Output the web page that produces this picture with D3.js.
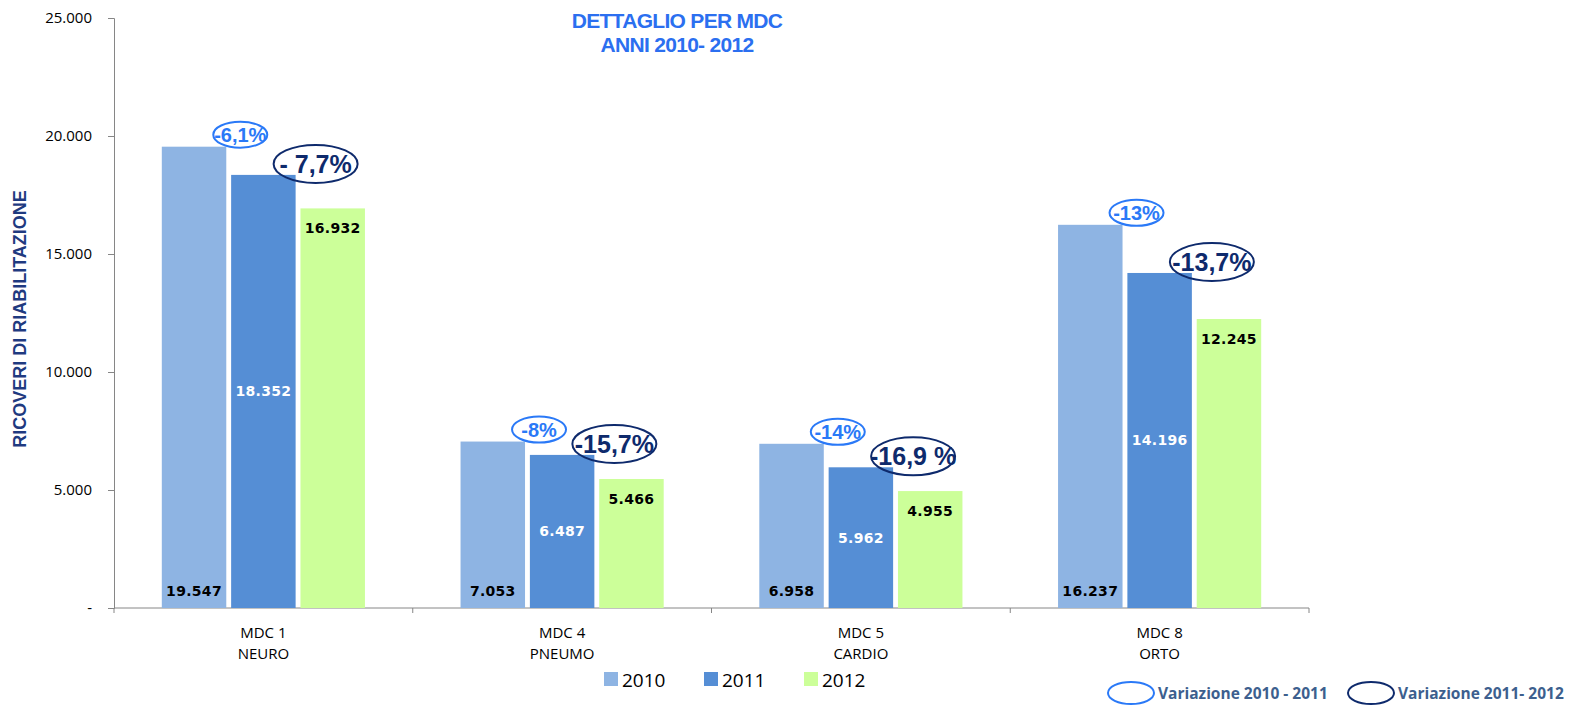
<!DOCTYPE html>
<html lang="it">
<head>
    <meta charset="UTF-8">
    <title>Dettaglio per MDC</title>
    <script src="https://d3js.org/d3.v7.min.js"></script>
    <style>
        body { margin: 0; background: #fff; }
        svg { font-family: "Liberation Sans", Arial, sans-serif; }
        .tick text { fill: #000; }
    </style>
</head>
<body>
    <div id="chart"></div>
    <script>
        // Data
        var categoryCodes = ["MDC 1", "MDC 4", "MDC 5", "MDC 8"];
        var categoryNames = ["NEURO", "PNEUMO", "CARDIO", "ORTO"];
        var years = ["2010", "2011", "2012"];
        var values2010 = [19547, 7053, 6958, 16237];
        var values2011 = [18352, 6487, 5962, 14196];
        var values2012 = [16932, 5466, 4955, 12245];
        var variation1011 = ["-6,1%", "-8%", "-14%", "-13%"];
        var variation1112 = ["- 7,7%", "-15,7%", "-16,9 %", "-13,7%"];
        var yTicks = [0, 5000, 10000, 15000, 20000, 25000];

        var colors = { "2010": "#8eb4e3", "2011": "#558ed5", "2012": "#ccff99" };
        var lightBlue = "#2a79f7", darkBlue = "#0e2a6c";

        var width = 1573, height = 706;
        var plotLeft = 114, plotRight = 1309, plotTop = 18, plotBottom = 608;

        var svg = d3.select("#chart").append("svg")
            .attr("width", width)
            .attr("height", height);

        var series = { "2010": values2010, "2011": values2011, "2012": values2012 };
        var rows = categoryCodes.map(function(c, i) {
            return { code: c, name: categoryNames[i], index: i,
                     values: years.map(function(y) { return { year: y, value: series[y][i], index: i }; }) };
        });

        var x0 = d3.scaleBand().domain(categoryCodes).range([plotLeft, plotRight])
            .paddingInner(0.32).paddingOuter(0.16);
        var x1 = d3.scaleBand().domain(years).range([0, x0.bandwidth()]).paddingInner(0.07);
        var y = d3.scaleLinear().domain([0, 25000]).range([plotBottom, plotTop]);

        var fmt = function(v) { return v === 0 ? "-" : d3.format(",")(v).replace(/,/g, "."); };

        // y axis
        var yAxis = svg.append("g")
            .attr("transform", "translate(" + plotLeft + ",0)")
            .call(d3.axisLeft(y).tickValues(yTicks).tickFormat(fmt).tickSize(6).tickPadding(16));
        yAxis.select(".domain").attr("stroke", "#868686");
        yAxis.selectAll(".tick line").attr("stroke", "#868686");
        yAxis.selectAll("text").style("font-size", "15px").style("font-family", "'Open Sans', sans-serif");

        // x axis: ticks at group boundaries
        var step = x0.step();
        var boundaries = [plotLeft].concat(categoryCodes.map(function(c) { return x0(c) - x0.paddingOuter() * step + step; }));
        var xAxis = svg.append("g").attr("transform", "translate(0," + plotBottom + ")");
        xAxis.append("line").attr("x1", plotLeft).attr("x2", plotRight).attr("stroke", "#868686");
        xAxis.selectAll(".btick").data(boundaries).enter().append("line")
            .attr("x1", function(d) { return d; }).attr("x2", function(d) { return d; })
            .attr("y1", 0).attr("y2", 5).attr("stroke", "#868686");
        var xl = xAxis.selectAll(".xlab").data(rows).enter().append("text")
            .attr("x", function(d) { return x0(d.code) + x0.bandwidth() / 2; })
            .attr("text-anchor", "middle")
            .style("font-family", "'Open Sans', sans-serif")
            .style("font-size", "15px");
        xl.append("tspan").attr("x", function(d) { return x0(d.code) + x0.bandwidth() / 2; }).attr("y", 30).text(function(d) { return d.code; });
        xl.append("tspan").attr("x", function(d) { return x0(d.code) + x0.bandwidth() / 2; }).attr("y", 51).text(function(d) { return d.name; });

        // bars
        var groups = svg.selectAll(".grp").data(rows).enter().append("g")
            .attr("transform", function(d) { return "translate(" + x0(d.code) + ",0)"; });
        groups.selectAll("rect").data(function(d) { return d.values; }).enter().append("rect")
            .attr("x", function(d) { return x1(d.year); })
            .attr("y", function(d) { return y(d.value); })
            .attr("width", x1.bandwidth())
            .attr("height", function(d) { return plotBottom - y(d.value); })
            .attr("fill", function(d) { return colors[d.year]; });

        // bar labels
        groups.selectAll(".lbl").data(function(d) { return d.values; }).enter().append("text")
            .attr("x", function(d) { return x1(d.year) + x1.bandwidth() / 2; })
            .attr("y", function(d) {
                if (d.year === "2010") return plotBottom - 12;
                if (d.year === "2011") return (y(d.value) + plotBottom) / 2 + 5;
                return y(d.value) + 25;
            })
            .attr("text-anchor", "middle")
            .attr("fill", function(d) { return d.year === "2011" ? "#fff" : "#000"; })
            .style("font-family", "'DejaVu Sans', sans-serif")
            .style("font-weight", "bold")
            .style("font-size", "14px")
            .style("letter-spacing", "0.3px")
            .text(function(d) { return fmt(d.value); });

        // variation ellipses
        function bubble(g, cx, cy, rx, ry, color, size, label) {
            g.append("ellipse").attr("cx", cx).attr("cy", cy).attr("rx", rx).attr("ry", ry)
                .attr("fill", "none").attr("stroke", color).attr("stroke-width", 2);
            if (label) {
                g.append("text").attr("x", cx).attr("y", cy + size * 0.36)
                    .attr("text-anchor", "middle").attr("fill", color)
                    .style("font-weight", "bold").style("font-size", size + "px")
                    .text(label);
            }
        }
        rows.forEach(function(r, i) {
            var g = svg.append("g");
            var gx = x0(r.code);
            bubble(g, gx + x1("2010") + x1.bandwidth() + 14, y(values2010[i]) - 12, 27, 13, lightBlue, 20, variation1011[i]);
            bubble(g, gx + x1("2011") + x1.bandwidth() + 20, y(values2011[i]) - 11, 42, 19, darkBlue, 25, variation1112[i]);
        });

        // title
        var title = svg.append("text").attr("text-anchor", "middle").attr("fill", "#2b6ff0")
            .style("font-weight", "bold").style("font-size", "21px").style("letter-spacing", "-0.7px");
        title.append("tspan").attr("x", 677).attr("y", 28).text("DETTAGLIO PER MDC");
        title.append("tspan").attr("x", 677).attr("y", 52).text("ANNI 2010- 2012");

        // y title
        svg.append("text")
            .attr("transform", "translate(26,319) rotate(-90)")
            .attr("text-anchor", "middle")
            .attr("fill", "#1f3a80")
            .style("font-weight", "bold").style("font-size", "18px")
            .text("RICOVERI DI RIABILITAZIONE");

        // legend years
        var legend = svg.append("g").attr("transform", "translate(604,672)");
        var li = legend.selectAll("g").data(years).enter().append("g")
            .attr("transform", function(d, i) { return "translate(" + (i * 100) + ",0)"; });
        li.append("rect").attr("width", 14).attr("height", 14).attr("fill", function(d) { return colors[d]; });
        li.append("text").attr("x", 18).attr("y", 15)
            .style("font-family", "'Open Sans', sans-serif").style("font-size", "19px")
            .text(function(d) { return d; });

        // legend variations
        var vl = svg.append("g");
        bubble(vl, 1131, 693, 23, 11, lightBlue, 0, null);
        vl.append("text").attr("x", 1158).attr("y", 699).attr("fill", "#3d5f8e")
            .style("font-family", "'Open Sans', sans-serif").style("font-weight", "bold").style("font-size", "15.5px")
            .text("Variazione 2010 - 2011");
        bubble(vl, 1371, 693, 23, 11, darkBlue, 0, null);
        vl.append("text").attr("x", 1398).attr("y", 699).attr("fill", "#3d5f8e")
            .style("font-family", "'Open Sans', sans-serif").style("font-weight", "bold").style("font-size", "15.5px")
            .text("Variazione 2011- 2012");
    </script>
</body>
</html>
